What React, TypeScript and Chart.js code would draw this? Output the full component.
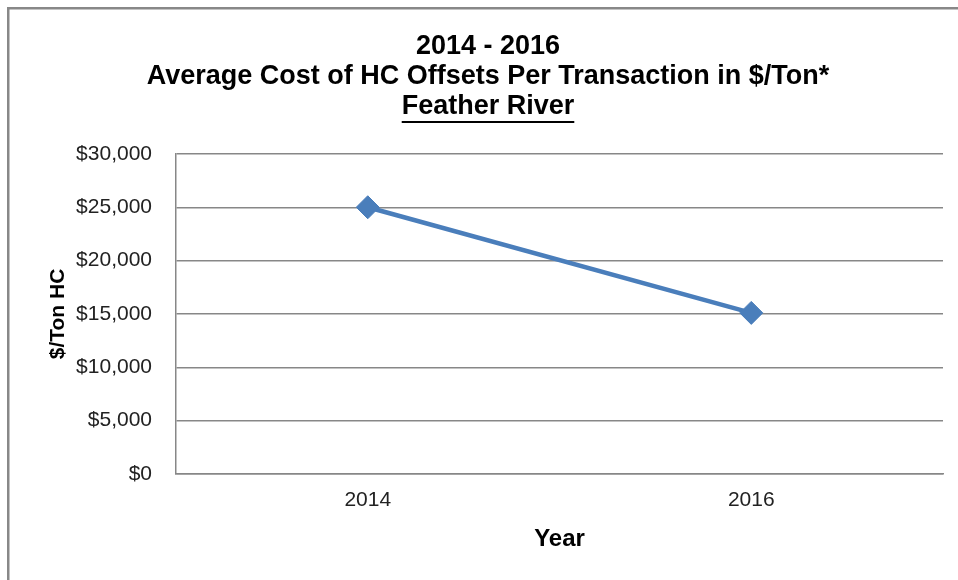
import React, { useEffect, useRef } from "react";
import { Chart, registerables } from "chart.js";

Chart.register(...registerables);

const years = ["2014", "2016"];
const costPerTon = [25000, 15100];
const titleLines = ["2014 - 2016", "Average Cost of HC Offsets Per Transaction in $/Ton*", "Feather River"];
const yTitle = "$/Ton HC";
const xTitle = "Year";

const FONT = "'Liberation Sans', Arial, sans-serif";
const GRID = "#878787";
const BLUE = "#4A7EBB";

const frameAndUnderline = {
  id: "frameAndUnderline",
  beforeDraw(chart: any) {
    const ctx = chart.ctx;
    ctx.save();
    ctx.fillStyle = "#ffffff";
    ctx.fillRect(0, 0, chart.width, chart.height);
    ctx.strokeStyle = "#888888";
    ctx.lineWidth = 2.5;
    ctx.beginPath();
    ctx.moveTo(8.25, chart.height);
    ctx.lineTo(8.25, 8.25);
    ctx.lineTo(chart.width, 8.25);
    ctx.stroke();
    ctx.restore();
  },
  afterDraw(chart: any) {
    const tb = chart.titleBlock;
    if (!tb) return;
    const opts = tb.options;
    const size = opts.font.size;
    const lh = size * opts.font.lineHeight;
    const padTop = typeof opts.padding === "object" ? opts.padding.top : opts.padding;
    const cy = tb.top + padTop + lh * 2.5;
    const ctx = chart.ctx;
    ctx.save();
    ctx.font = `bold ${size}px ${FONT}`;
    const w = ctx.measureText(titleLines[2]).width;
    const cx = (tb.left + tb.right) / 2;
    ctx.strokeStyle = "#000";
    ctx.lineWidth = 2;
    ctx.beginPath();
    ctx.moveTo(cx - w / 2, cy + size * 0.56);
    ctx.lineTo(cx + w / 2, cy + size * 0.56);
    ctx.stroke();
    ctx.restore();
  },
};

export default function App() {
  const ref = useRef<HTMLCanvasElement | null>(null);
  useEffect(() => {
    const canvas = ref.current;
    if (!canvas) return;
    const chart = new Chart(canvas, {
      type: "line",
      data: {
        labels: years,
        datasets: [
          {
            data: costPerTon,
            borderColor: BLUE,
            backgroundColor: BLUE,
            borderWidth: 4.5,
            pointStyle: "rectRot",
            pointRadius: 11.5,
            pointBorderWidth: 1,
            pointBackgroundColor: BLUE,
            pointBorderColor: BLUE,
            tension: 0,
          },
        ],
      },
      options: {
        responsive: false,
        animation: false,
        layout: { padding: { left: 33, right: 15, top: 32, bottom: 26 } },
        plugins: {
          legend: { display: false },
          tooltip: { enabled: false },
          title: {
            display: true,
            text: titleLines,
            color: "#000",
            font: { family: FONT, size: 27, weight: "bold", lineHeight: 1.11 },
            padding: { top: 0, bottom: 32 },
          },
        },
        scales: {
          x: {
            offset: true,
            grid: { display: false, drawTicks: false },
            border: { display: true, color: GRID, width: 1.5 },
            ticks: { color: "#222", font: { family: FONT, size: 21 }, padding: 14 },
            title: { display: true, text: xTitle, color: "#000", font: { family: FONT, size: 24, weight: "bold" }, padding: { top: 0, bottom: 0 } },
            afterFit(scale: any) {
              scale.height = 80;
            },
          },
          y: {
            min: 0,
            max: 30000,
            ticks: {
              stepSize: 5000,
              color: "#222",
              font: { family: FONT, size: 21 },
              padding: 24,
              callback: (v: any) => "$" + Number(v).toLocaleString("en-US"),
            },
            grid: { color: GRID, lineWidth: 1.5, drawTicks: false },
            border: { display: true, color: GRID, width: 1.5 },
            title: { display: true, text: yTitle, color: "#000", font: { family: FONT, size: 21, weight: "bold" }, padding: { top: 13, bottom: 0 } },
            afterFit(scale: any) {
              scale.width = 143;
            },
          },
        },
      },
      plugins: [frameAndUnderline],
    });
    return () => chart.destroy();
  }, []);
  return (
    <div style={{ position: "absolute", left: 0, top: 0, width: 958, height: 580 }}>
      <canvas ref={ref} width={958} height={580} style={{ display: "block" }} />
    </div>
  );
}
